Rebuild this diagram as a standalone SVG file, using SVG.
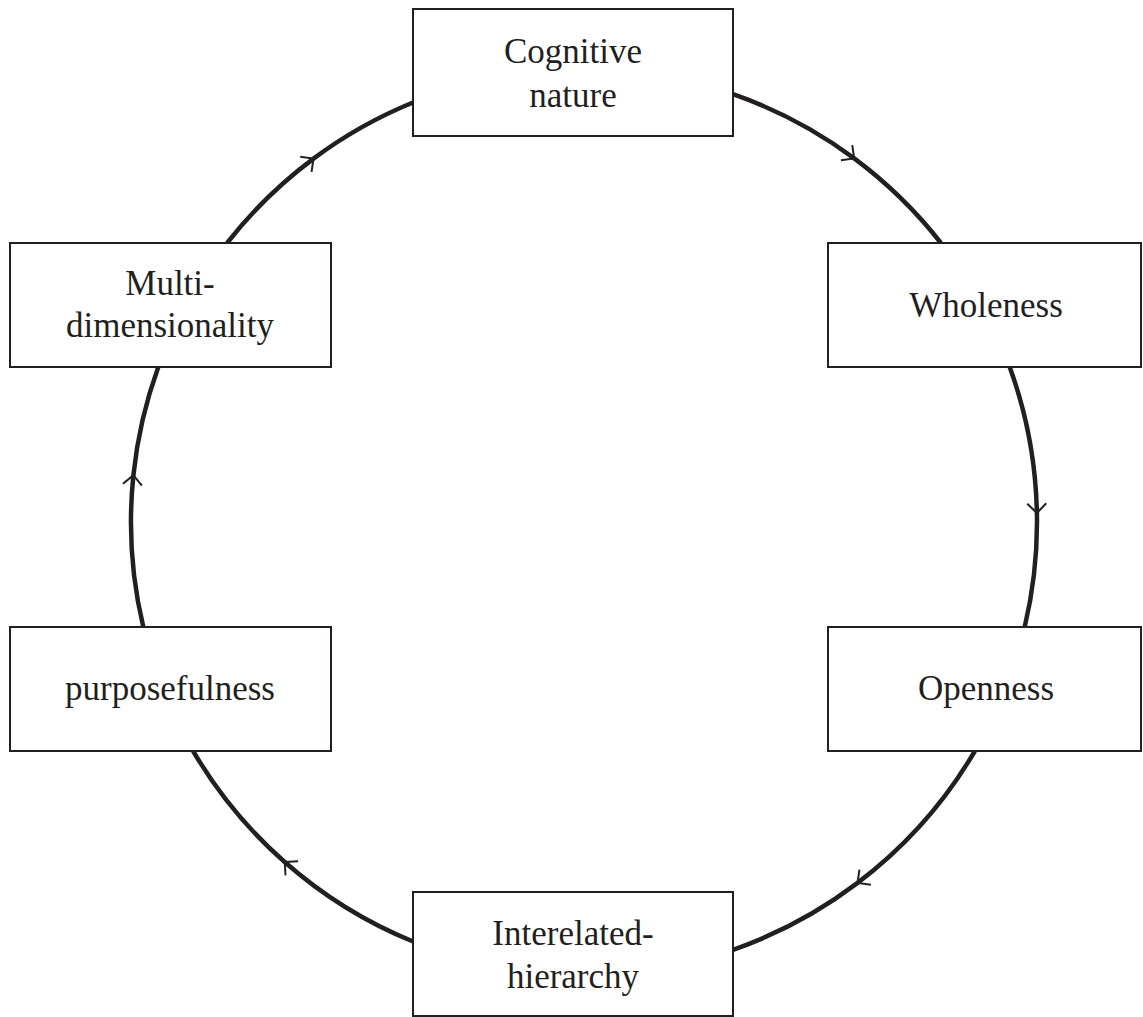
<svg xmlns="http://www.w3.org/2000/svg" width="1143" height="1017" viewBox="0 0 1143 1017">
  <style>
    .box { fill: #ffffff; stroke: #231f20; stroke-width: 2; }
    .lbl { font-family: "Liberation Serif", "DejaVu Serif", serif; font-size: 35px; fill: #231f20; text-anchor: middle; }
    .arc { fill: none; stroke: #231f20; stroke-width: 4.5; marker-mid: url(#chev); }
  </style>
  <defs>
    <marker id="chev" markerUnits="userSpaceOnUse" markerWidth="24" markerHeight="24" refX="0" refY="0" viewBox="-12 -12 24 24" orient="auto" overflow="visible">
      <path d="M -9.5 -9.5 L 0 0 L -9.5 9.5" fill="none" stroke="#231f20" stroke-width="2"/>
    </marker>
  </defs>
  <rect width="1143" height="1017" fill="#ffffff"/>
  <g id="connectors">
    <path class="arc" d="M 733 94.2 A 453 453 0 0 1 854.2 158.4 A 453 453 0 0 1 940.9 243"/>
    <path class="arc" d="M 1009.7 367 A 453 453 0 0 1 1036.9 513 A 453 453 0 0 1 1024.7 627"/>
    <path class="arc" d="M 974.9 751 A 453 453 0 0 1 857.6 882.9 A 453 453 0 0 1 733 949.8"/>
    <path class="arc" d="M 413 941.5 A 453 453 0 0 1 284.7 862 A 453 453 0 0 1 193.1 751"/>
    <path class="arc" d="M 143.3 627 A 453 453 0 0 1 133.4 475.2 A 453 453 0 0 1 158.3 367"/>
    <path class="arc" d="M 227.1 243 A 453 453 0 0 1 313.5 158.6 A 453 453 0 0 1 413 102.5"/>
  </g>
  <g id="cognitive">
    <rect class="box" x="413" y="9" width="320" height="127"/>
    <text class="lbl" x="573" y="63">Cognitive</text>
    <text class="lbl" x="573" y="107">nature</text>
  </g>
  <g id="wholeness">
    <rect class="box" x="828" y="243" width="313" height="124"/>
    <text class="lbl" x="986" y="317">Wholeness</text>
  </g>
  <g id="openness">
    <rect class="box" x="828" y="627" width="313" height="124"/>
    <text class="lbl" x="986" y="700">Openness</text>
  </g>
  <g id="interelated">
    <rect class="box" x="413" y="892" width="320" height="124"/>
    <text class="lbl" x="573" y="945">Interelated-</text>
    <text class="lbl" x="573" y="988">hierarchy</text>
  </g>
  <g id="purposefulness">
    <rect class="box" x="10" y="627" width="321" height="124"/>
    <text class="lbl" x="170" y="700">purposefulness</text>
  </g>
  <g id="multi">
    <rect class="box" x="10" y="243" width="321" height="124"/>
    <text class="lbl" x="170" y="295">Multi-</text>
    <text class="lbl" x="170" y="337">dimensionality</text>
  </g>
</svg>
